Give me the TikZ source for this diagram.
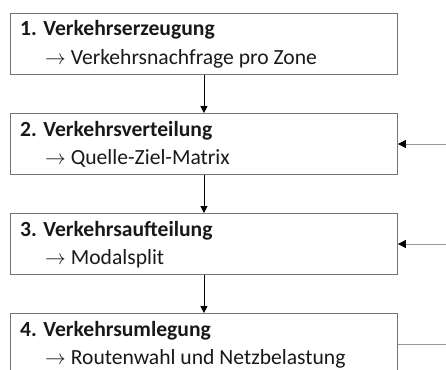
\documentclass[tikz,border=0pt]{standalone}
\usepackage{fontspec}
\setmainfont{Carlito}
\usetikzlibrary{arrows.meta}
\begin{document}
\begin{tikzpicture}[x=1pt,y=-1pt,
  box/.style={draw=black!55, line width=0.9pt, minimum width=387pt, minimum height=61pt, inner sep=0pt, anchor=north west},
  ttl/.style={anchor=base west, inner sep=0pt, font=\fontsize{21.6}{26}\selectfont\bfseries, text=black!90},
  sub/.style={anchor=base west, inner sep=0pt, font=\fontsize{21.6}{26}\selectfont, text=black!90},
  conn/.style={draw=black, line width=0.8pt, -{Triangle[length=7pt,width=7pt]}},
  feed/.style={draw=black!40, line width=0.9pt},
  feedtip/.style={feed, -{Triangle[length=8pt,width=8pt,color=black]}}
]
\useasboundingbox (0,0) rectangle (446,369);
\fill[white] (0,0) rectangle (446,369);

\node[box] (b1) at (10,13) {};
\node[ttl] (t1) at (20,36) {1. Verkehrserzeugung};
\node[sub] (s1) at (45,64) {$\rightarrow$ Verkehrsnachfrage pro Zone};

\node[box] (b2) at (10,113) {};
\node[ttl] (t2) at (20,136) {2. Verkehrsverteilung};
\node[sub] (s2) at (45,164) {$\rightarrow$ Quelle-Ziel-Matrix};

\node[box] (b3) at (10,213) {};
\node[ttl] (t3) at (20,236) {3. Verkehrsaufteilung};
\node[sub] (s3) at (45,264) {$\rightarrow$ Modalsplit};

\node[box] (b4) at (10,313) {};
\node[ttl] (t4) at (20,336) {4. Verkehrsumlegung};
\node[sub] (s4) at (45,364) {$\rightarrow$ Routenwahl und Netzbelastung};

\draw[conn] (b1.south) -- (b2.north);
\draw[conn] (b2.south) -- (b3.north);
\draw[conn] (b3.south) -- (b4.north);

\coordinate (r2) at (446,144);
\coordinate (r3) at (446,244);
\coordinate (r4) at (446,344);
\draw[feedtip] (r2) -- (r2 -| b2.east);
\draw[feedtip] (r3) -- (r3 -| b3.east);
\draw[feed] (r4 -| b4.east) -- (r4);
\end{tikzpicture}
\end{document}
